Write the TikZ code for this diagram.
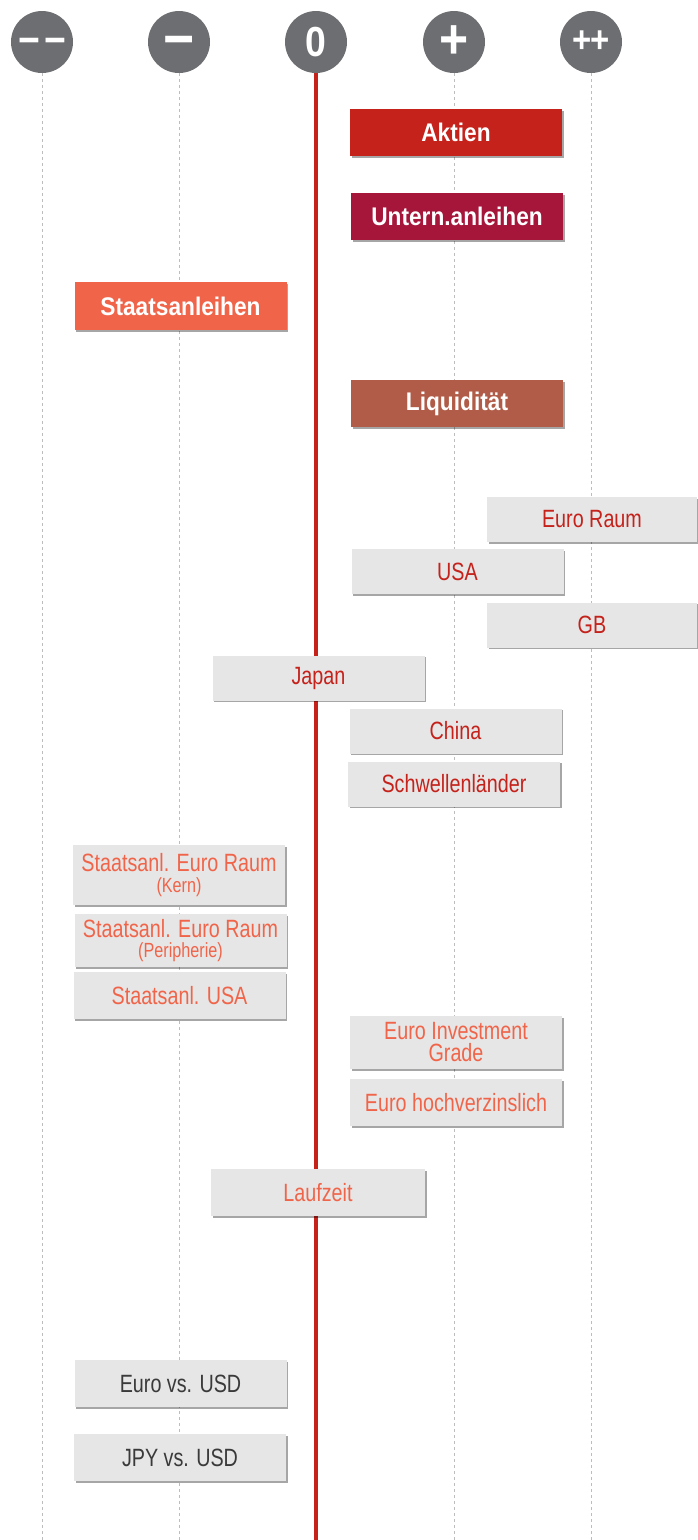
\documentclass[tikz,border=0pt]{standalone}
\usepackage{fontspec}
\usepackage{tikz}
\usetikzlibrary{shadows}

\newfontfamily\condfont[FakeStretch=0.79]{Liberation Sans}
\newfontfamily\condbold[FakeStretch=0.89]{Liberation Sans Bold}

\definecolor{scalegray}{HTML}{6D6E71}
\definecolor{axisgray}{HTML}{BDBDBD}
\definecolor{zerored}{HTML}{C4221B}
\definecolor{aktienred}{HTML}{C4221B}
\definecolor{unternred}{HTML}{A6153A}
\definecolor{staatorange}{HTML}{F0654A}
\definecolor{liqbrown}{HTML}{B05C48}
\definecolor{boxgray}{HTML}{E6E6E6}
\definecolor{darktext}{HTML}{3A3A3A}

\tikzset{
  scaledot/.style={circle, fill=scalegray, minimum size=62pt, inner sep=0pt, text=white},
  axisline/.style={axisgray, line width=0.8pt, dash pattern=on 3pt off 3pt},
  boxshadow/.style={drop shadow={shadow xshift=1.5pt, shadow yshift=-1.5pt, fill=black, opacity=0.35}},
  classbox/.style={rectangle, minimum width=212pt, minimum height=47pt, inner sep=0pt, text=white, boxshadow,
    font=\condbold\fontsize{25.5}{25.5}\selectfont},
  subbox/.style={rectangle, fill=boxgray, minimum width=212pt, minimum height=45pt, inner sep=0pt, align=center, boxshadow,
    font=\condfont\fontsize{25}{22}\selectfont}
}

\newcommand{\smallnote}[1]{{\fontsize{20.5}{20.5}\selectfont #1}}

\begin{document}
\begin{tikzpicture}[x=1pt, y=-1pt]

\useasboundingbox (0,0) rectangle (697,1540);
\coordinate (bottom) at (0,1540);

% scale heads
\node[scaledot, font=\condbold\fontsize{42}{42}\selectfont] (mm) at (42,42) {\vphantom{+}−\kern4pt−};
\node[scaledot, font=\condbold\fontsize{60}{60}\selectfont] (m) at (179,42) {\vphantom{+}−};
\node[scaledot, font=\condbold\fontsize{42}{42}\selectfont] (z) at (316,42) {0};
\node[scaledot, font=\condbold\fontsize{56}{56}\selectfont] (p) at (454,42) {+};
\node[scaledot, font=\condbold\fontsize{37}{37}\selectfont] (pp) at (591,42) {+\kern-1pt+};

% axis lines
\foreach \c in {mm,m,p,pp}
  \draw[axisline] (\c.south) -- (\c.south |- bottom);
\draw[zerored, line width=4.5pt] (z.south) -- (z.south |- bottom);

% asset classes
\node[classbox, fill=aktienred] (aktien) at (456,132.5) {Aktien};
\node[classbox, fill=unternred] (untern) at (457,216.5) {Untern.anleihen};
\node[classbox, fill=staatorange, minimum height=48pt] (staat) at (180.5,306) {Staatsanleihen};
\node[classbox, fill=liqbrown] (liq) at (457,403.5) {Liquidität};

% regions
\node[subbox, text=zerored, minimum width=210pt] (euroraum) at (592,519.5) {Euro Raum};
\node[subbox, text=zerored] (usa) at (457.5,571.5) {USA};
\node[subbox, text=zerored, minimum width=210pt] (gb) at (592,625) {GB};
\node[subbox, text=zerored] (japan) at (318.5,678) {Japan};
\node[subbox, text=zerored] (china) at (455.5,731) {China};
\node[subbox, text=zerored] (schwell) at (454,784) {Schwellenländer};

% bonds
\node[subbox, text=staatorange, minimum height=60pt] (saeuk) at (179,875) {Staatsanl. Euro Raum\\[-1pt]\smallnote{(Kern)}};
\node[subbox, text=staatorange, minimum height=53pt] (saeup) at (180.5,940.5) {Staatsanl. Euro Raum\\[-2pt]\smallnote{(Peripherie)}};
\node[subbox, text=staatorange, minimum height=47pt] (sausa) at (179.5,995.5) {Staatsanl. USA};
\node[subbox, text=staatorange, minimum height=53pt] (eig) at (456,1042.5) {Euro Investment\\Grade};
\node[subbox, text=staatorange, minimum height=47pt] (ehy) at (456,1102.5) {Euro hochverzinslich};
\node[subbox, text=staatorange, minimum height=47pt, minimum width=214pt] (lauf) at (318,1192.5) {Laufzeit};

% currencies
\node[subbox, text=darktext, minimum height=47pt] (eurusd) at (180.5,1383.5) {Euro vs. USD};
\node[subbox, text=darktext, minimum height=47pt] (jpyusd) at (180,1457.5) {JPY vs. USD};

\end{tikzpicture}
\end{document}
